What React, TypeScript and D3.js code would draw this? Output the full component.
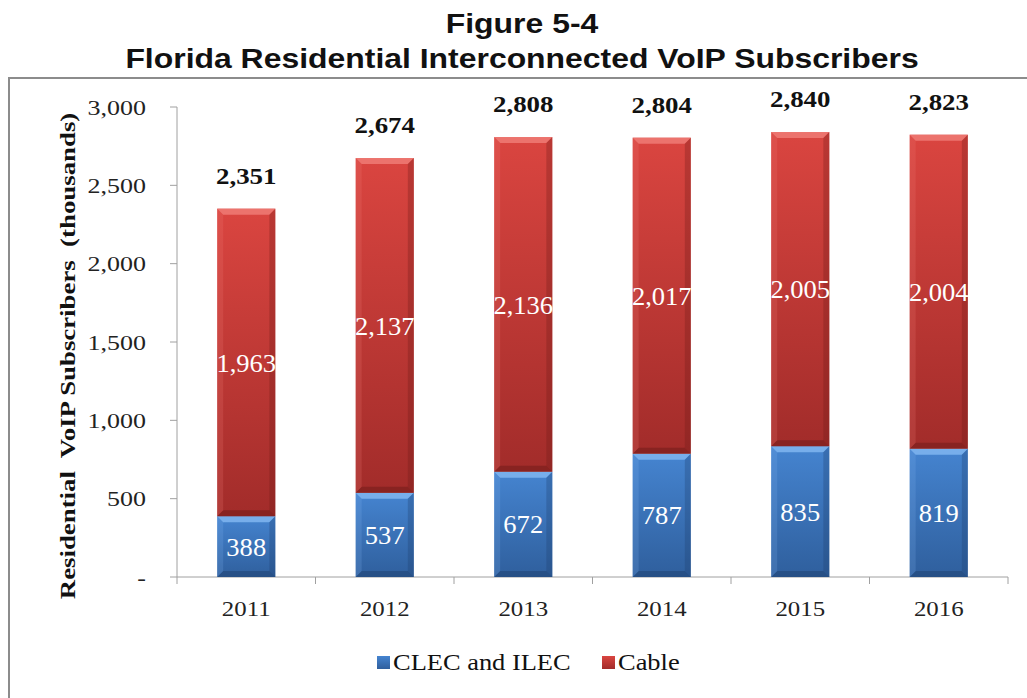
import React from "react";
import * as d3 from "d3";

const years = ["2011", "2012", "2013", "2014", "2015", "2016"];
const clecIlec = [388, 537, 672, 787, 835, 819];
const cable = [1963, 2137, 2136, 2017, 2005, 2004];
const totals = [2351, 2674, 2808, 2804, 2840, 2823];
const yTicks = [0, 500, 1000, 1500, 2000, 2500, 3000];
const seriesNames = ["CLEC and ILEC", "Cable"];

const W = 1027;
const H = 698;
const x0 = 177;
const x1 = 1008;
const yBottom = 577;
const yTop = 107;

const serif = "'Liberation Serif', 'Times New Roman', serif";
const sans = "'Liberation Sans', Arial, sans-serif";

function T(props: {
  x: number; y: number; sx?: number; size: number; family?: string; bold?: boolean;
  anchor?: "start" | "middle" | "end"; fill?: string; dy?: string; rotate?: number; children: React.ReactNode;
}) {
  const { x, y, sx = 1, size, family = serif, bold, anchor = "start", fill = "#111", dy, rotate, children } = props;
  const tr = rotate ? `translate(${x},${y}) rotate(${rotate}) scale(${sx},1)` : `translate(${x},${y}) scale(${sx},1)`;
  return (
    <text transform={tr} fontFamily={family} fontSize={size} fontWeight={bold ? "bold" : "normal"}
      textAnchor={anchor} fill={fill} dy={dy} style={{ whiteSpace: "pre" }}>
      {children}
    </text>
  );
}

export default function App() {
  const x = d3.scaleBand<string>().domain(years).range([x0, x1]).paddingInner(0.58).paddingOuter(0.29);
  const y = d3.scaleLinear().domain([0, 3000]).range([yBottom, yTop]);
  const fmt = d3.format(",");
  const bw = x.bandwidth();
  const step = x.step();

  const bevel = (bx: number, by: number, w: number, h: number, light: string, dark: string) => {
    const b = Math.min(6, h / 2);
    return (
      <g>
        <polygon points={`${bx},${by} ${bx + w},${by} ${bx + w - b},${by + b} ${bx + b},${by + b}`} fill={light} opacity={0.85} />
        <polygon points={`${bx},${by + h} ${bx + w},${by + h} ${bx + w - b},${by + h - b} ${bx + b},${by + h - b}`} fill={dark} opacity={0.5} />
        <polygon points={`${bx},${by} ${bx + b},${by + b} ${bx + b},${by + h - b} ${bx},${by + h}`} fill={light} opacity={0.2} />
        <polygon points={`${bx + w},${by} ${bx + w - b},${by + b} ${bx + w - b},${by + h - b} ${bx + w},${by + h}`} fill={dark} opacity={0.3} />
      </g>
    );
  };

  return (
    <svg width={W} height={H} style={{ position: "absolute", left: 0, top: 0, background: "#fff" }}>
      <defs>
        <linearGradient id="gRed" x1="0" y1="0" x2="0" y2="1">
          <stop offset="0" stopColor="#da4540" />
          <stop offset="1" stopColor="#a22c2a" />
        </linearGradient>
        <linearGradient id="gBlue" x1="0" y1="0" x2="0" y2="1">
          <stop offset="0" stopColor="#4584d0" />
          <stop offset="1" stopColor="#2f5f9d" />
        </linearGradient>
      </defs>
      <T x={522} y={33} sx={1.14} size={28} family={sans} bold anchor="middle">Figure 5-4</T>
      <T x={522} y={68} sx={1.14} size={28} family={sans} bold anchor="middle">Florida Residential Interconnected VoIP Subscribers</T>

      {/* frame */}
      <path d={`M9,${H} L9,78 L${W},78`} fill="none" stroke="#8c8c8c" strokeWidth={2} />

      {/* y axis */}
      <line x1={x0} x2={x0} y1={yTop} y2={yBottom} stroke="#a0a0a0" strokeWidth={1} />
      {yTicks.map((t) => (
        <g key={t}>
          <line x1={x0 - 7} x2={x0} y1={y(t)} y2={y(t)} stroke="#a0a0a0" />
          <T x={146} y={y(t)} dy="0.35em" sx={1.18} size={22} anchor="end" fill="#222">
            {t === 0 ? "-" : fmt(t)}
          </T>
        </g>
      ))}
      <T x={67} y={356} rotate={-90} sx={1.22} size={22} bold anchor="middle" dy="0.35em">
        {"Residential  VoIP Subscribers  (thousands)"}
      </T>

      {/* x axis */}
      <line x1={x0} x2={x1} y1={yBottom} y2={yBottom} stroke="#a0a0a0" />
      {d3.range(years.length + 1).map((i) => (
        <line key={i} x1={x0 + i * step} x2={x0 + i * step} y1={yBottom} y2={yBottom + 7} stroke="#a0a0a0" />
      ))}
      {years.map((yr) => (
        <T key={yr} x={(x(yr) as number) + bw / 2} y={616} sx={1.13} size={22} anchor="middle" fill="#222">
          {yr}
        </T>
      ))}

      {/* bars */}
      {years.map((yr, i) => {
        const bx = x(yr) as number;
        const yb0 = y(0);
        const yb1 = y(clecIlec[i]);
        const yc1 = y(clecIlec[i] + cable[i]);
        return (
          <g key={yr}>
            <rect x={bx} y={yb1} width={bw} height={yb0 - yb1} fill="url(#gBlue)" />
            {bevel(bx, yb1, bw, yb0 - yb1, "#80b6f0", "#1d3f6e")}
            <rect x={bx} y={yc1} width={bw} height={yb1 - yc1} fill="url(#gRed)" />
            {bevel(bx, yc1, bw, yb1 - yc1, "#ef7b76", "#6e1a18")}
            <T x={bx + bw / 2} y={(yb0 + yb1) / 2} dy="0.35em" sx={1.02} size={26} anchor="middle" fill="#fff">
              {fmt(clecIlec[i])}
            </T>
            <T x={bx + bw / 2} y={(yb1 + yc1) / 2} dy="0.35em" sx={1.02} size={26} anchor="middle" fill="#fff">
              {fmt(cable[i])}
            </T>
            <T x={bx + bw / 2} y={y(totals[i]) - 25} sx={1.17} size={23} bold anchor="middle" fill="#111">
              {fmt(totals[i])}
            </T>
          </g>
        );
      })}

      {/* legend */}
      {seriesNames.map((n, i) => {
        const lx = i === 0 ? 377 : 602;
        return (
          <g key={n}>
            <rect x={lx} y={656} width={13} height={13} fill={i === 0 ? "url(#gBlue)" : "url(#gRed)"} />
            <T x={lx + 16} y={662} dy="0.35em" sx={1.15} size={23} fill="#111">{n}</T>
          </g>
        );
      })}
    </svg>
  );
}
